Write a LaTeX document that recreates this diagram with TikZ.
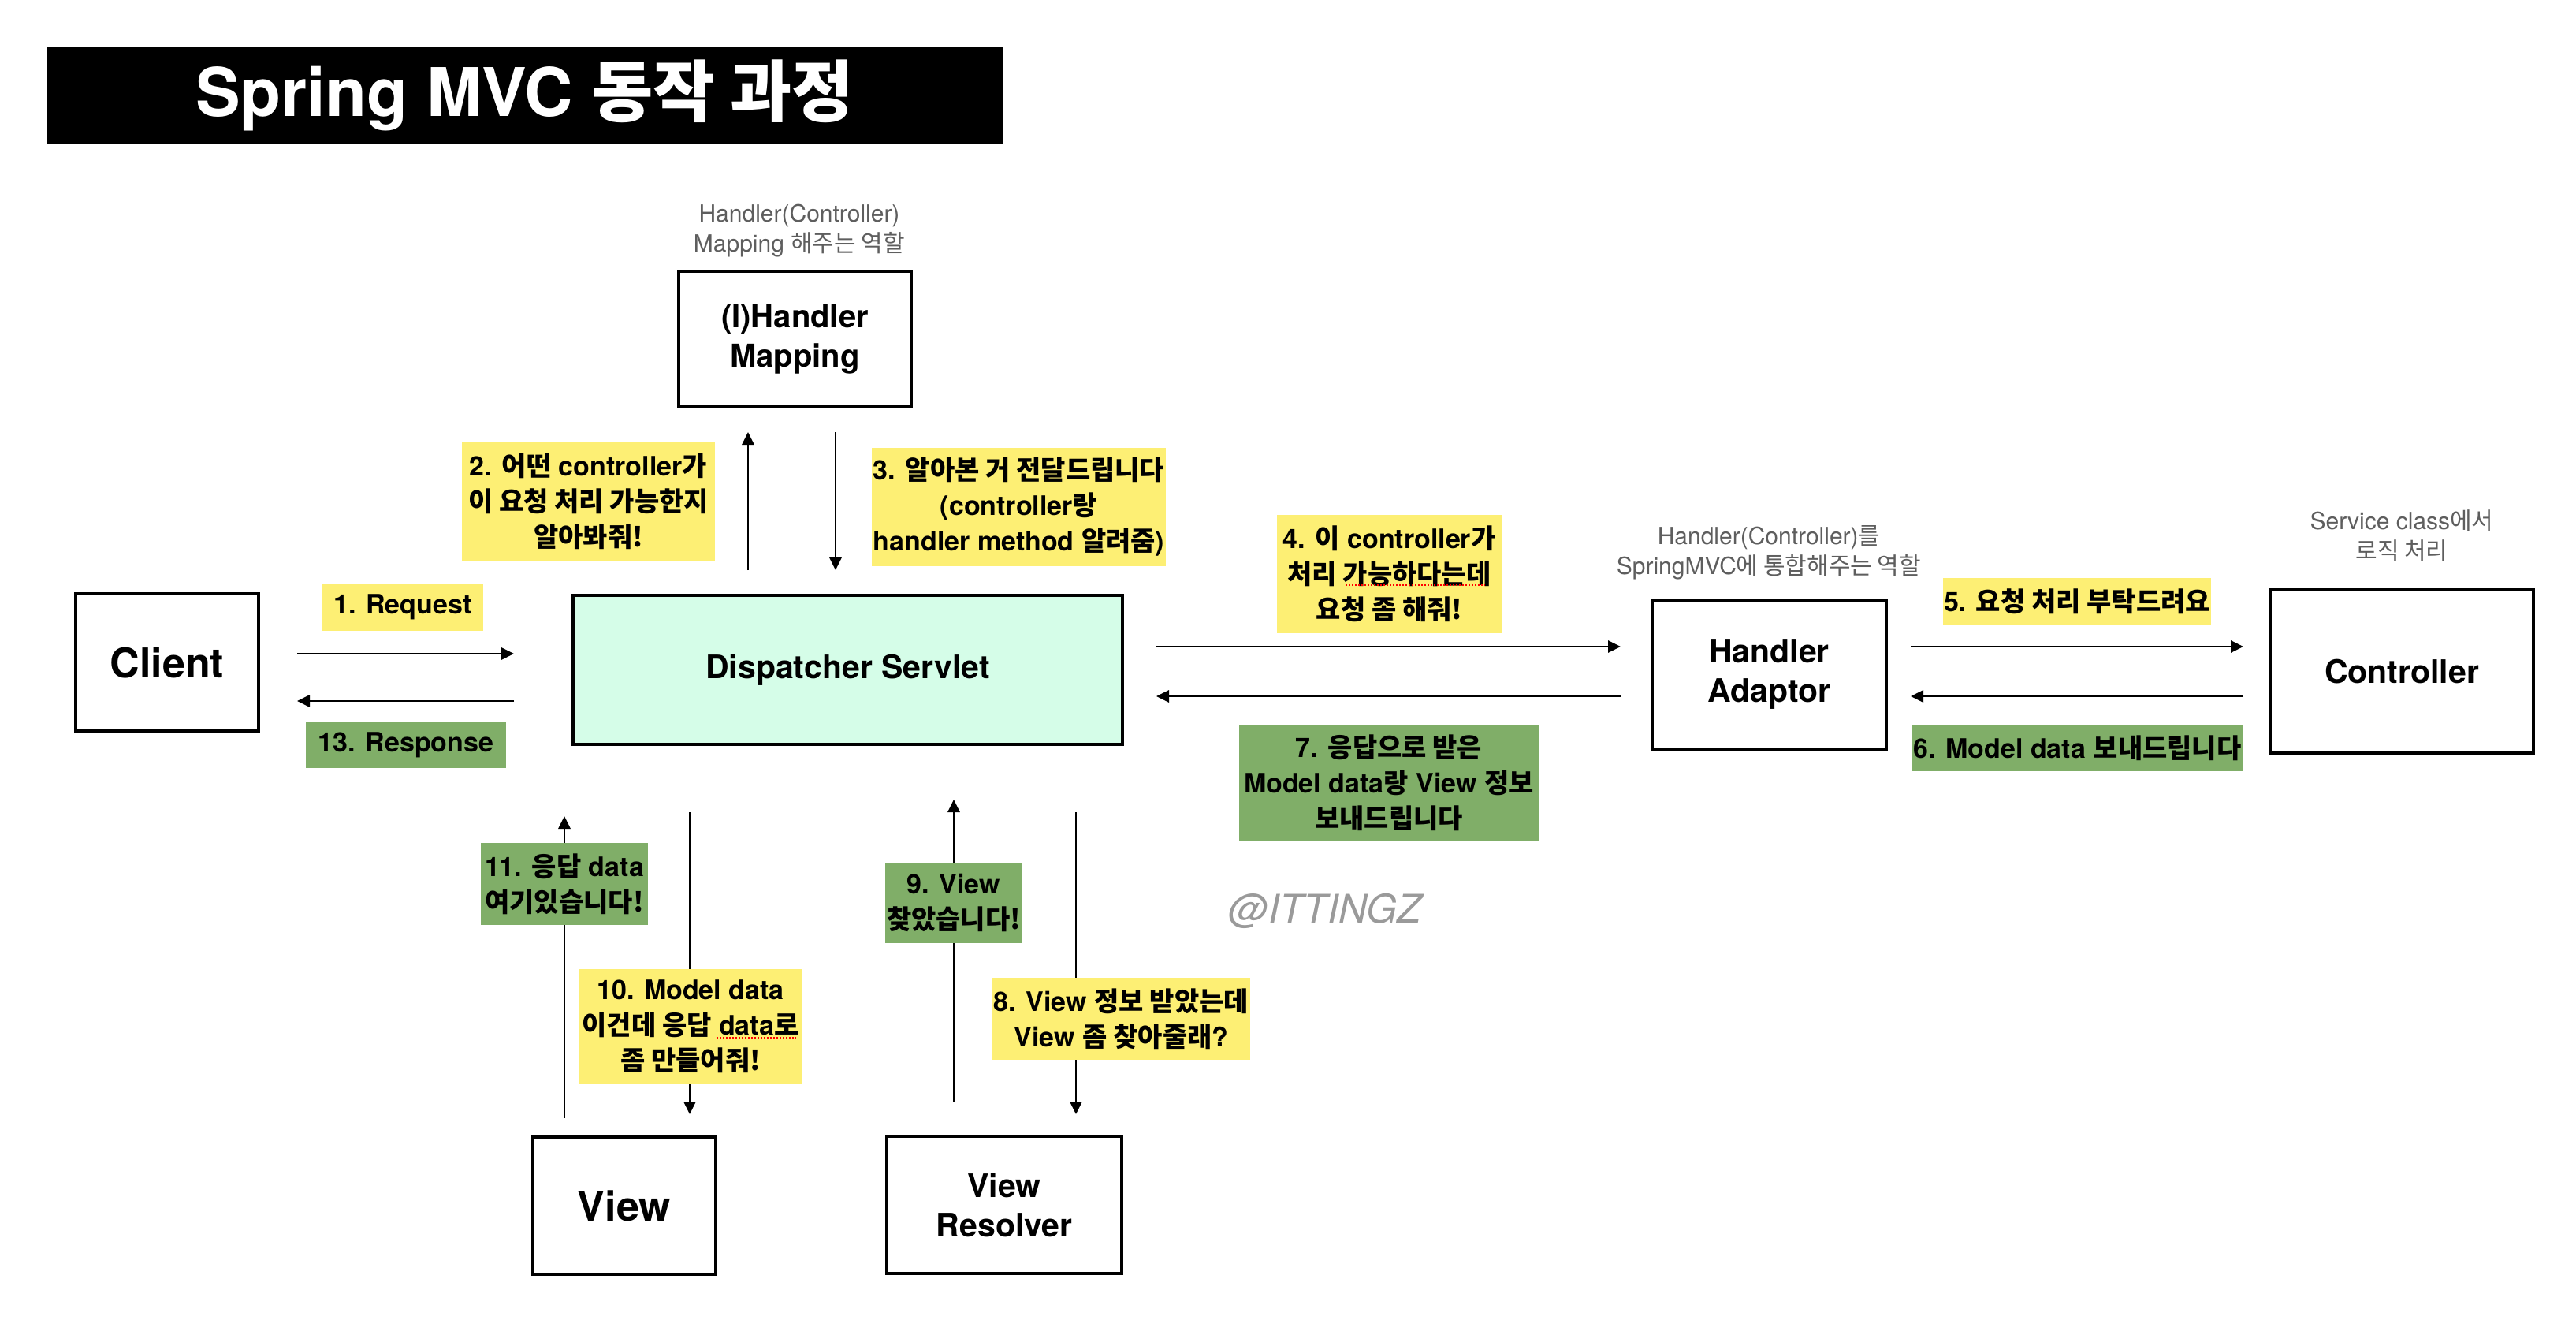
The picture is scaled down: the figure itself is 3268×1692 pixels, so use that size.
\documentclass[tikz,border=0pt]{standalone}
\usepackage{fontspec}
\setmainfont{TeX Gyre Heros}
\newfontfamily\krfont{Noto Sans CJK KR}
\newcommand\hk[1]{{\krfont #1}}
\usetikzlibrary{arrows.meta}
\definecolor{labyellow}{HTML}{FDEF74}
\definecolor{labgreen}{HTML}{80AE68}
\definecolor{dispfill}{HTML}{D5FDE8}
\definecolor{notegray}{HTML}{5E5E5E}
\definecolor{wmgray}{HTML}{9A9A9A}
\begin{document}
\begin{tikzpicture}[x=1pt,y=-1pt,
  box/.style={draw=black, line width=3.2pt, fill=white, inner sep=0pt, align=center,
    font=\bfseries\fontsize{41}{50}\selectfont},
  lab/.style={inner sep=0pt, align=center, font=\bfseries\fontsize{34}{45}\selectfont},
  ylab/.style={lab, fill=labyellow},
  glab/.style={lab, fill=labgreen},
  note/.style={inner sep=0pt, align=center, text=notegray, font=\fontsize{30}{38}\selectfont},
  arr/.style={line width=2.8pt, -{Triangle[length=16pt,width=15pt]}},
  squiggle/.style={draw=red, line width=2pt, dash pattern=on 2pt off 2pt},
]
\fill[white] (0,0) rectangle (3268,1692);
\useasboundingbox (0,0) rectangle (3268,1692);

% title
\node[fill=black, text=white, inner sep=0pt, minimum width=1213pt, minimum height=123pt,
  font=\bfseries\fontsize{85}{95}\selectfont] (title) at (665.5,120.5) {Spring MVC \hk{동작 과정}};

% boxes
\node[box, minimum width=295pt, minimum height=172pt, font=\bfseries\fontsize{40}{50}\selectfont]
  (hmap) at (1008.5,430) {(I)Handler\\Mapping};
\node[box, minimum width=232pt, minimum height=174pt, font=\bfseries\fontsize{52}{60}\selectfont]
  (client) at (212,840) {Client};
\node[box, fill=dispfill, minimum width=697pt, minimum height=189pt] (disp) at (1075.5,849.5) {Dispatcher Servlet};
\node[box, minimum width=297pt, minimum height=189pt] (hadapt) at (2244.5,855.5) {Handler\\Adaptor};
\node[box, minimum width=334pt, minimum height=207pt] (ctrl) at (3047,851.5) {Controller};
\node[box, minimum width=232pt, minimum height=174pt, font=\bfseries\fontsize{52}{60}\selectfont]
  (view) at (792,1529) {View};
\node[box, minimum width=298pt, minimum height=174pt] (vres) at (1274,1528) {View\\Resolver};

% notes
\node[note] (n1) at (1014,293) {Handler(Controller)\\Mapping \hk{해주는 역할}};
\node[note] (n2) at (2244,701) {Handler(Controller)\hk{를}\\SpringMVC\hk{에 통합해주는 역할}};
\node[note] (n3) at (3047,679) {Service class\hk{에서}\\\hk{로직 처리}};

% connector end points
\coordinate (a1s) at (377,829);  \coordinate (a1e) at (652,829);
\coordinate (a13s) at (652,889); \coordinate (a13e) at (377,889);
\coordinate (a2s) at (949,723);  \coordinate (a2e) at (949,548);
\coordinate (a3s) at (1060,548); \coordinate (a3e) at (1060,723);
\coordinate (a4s) at (1467,820); \coordinate (a4e) at (2056,820);
\coordinate (a7s) at (2056,883); \coordinate (a7e) at (1467,883);
\coordinate (a5s) at (2424,820); \coordinate (a5e) at (2846,820);
\coordinate (a6s) at (2846,883); \coordinate (a6e) at (2424,883);
\coordinate (a11s) at (716,1418); \coordinate (a11e) at (716,1035);
\coordinate (a10s) at (875,1030); \coordinate (a10e) at (875,1413);
\coordinate (a9s) at (1210,1397); \coordinate (a9e) at (1210,1014);
\coordinate (a8s) at (1365,1030); \coordinate (a8e) at (1365,1413);

\foreach \a in {1,13,2,3,4,7,5,6,11,10,9,8}
  \draw[arr] (a\a s) -- (a\a e);

% labels
\node[ylab, minimum width=204pt, minimum height=60pt] (l1) at (511,770) {1. Request};
\node[glab, minimum width=254pt, minimum height=59pt] (l13) at (515,944.5) {13. Response};
\node[ylab, minimum width=321pt, minimum height=150pt] (l2) at (746.5,636)
  {2. \hk{어떤} controller\hk{가}\\\hk{이 요청 처리 가능한지}\\\hk{알아봐줘!}};
\node[ylab, minimum width=373pt, minimum height=150pt] (l3) at (1292.5,643)
  {3. \hk{알아본 거 전달드립니다}\\(controller\hk{랑}\\handler method \hk{알려줌})};
\node[ylab, minimum width=285pt, minimum height=150pt] (l4) at (1762.5,728)
  {4. \hk{이} controller\hk{가}\\\hk{처리 가능하다는데}\\\hk{요청 좀 해줘!}};
\node[glab, minimum width=380pt, minimum height=147pt] (l7) at (1762,992.5)
  {7. \hk{응답으로 받은}\\Model data\hk{랑} View \hk{정보}\\\hk{보내드립니다}};
\node[ylab, minimum width=340pt, minimum height=59pt] (l5) at (2635,762.5)
  {5. \hk{요청 처리 부탁드려요}};
\node[glab, minimum width=421pt, minimum height=58pt] (l6) at (2635.5,949)
  {6. Model data \hk{보내드립니다}};
\node[glab, minimum width=212pt, minimum height=104pt] (l11) at (716,1121)
  {11. \hk{응답} data\\\hk{여기있습니다!}};
\node[ylab, minimum width=284pt, minimum height=146pt] (l10) at (876,1302)
  {10. Model data\\\hk{이건데 응답} data\hk{로}\\\hk{좀 만들어줘!}};
\node[glab, minimum width=174pt, minimum height=102pt] (l9) at (1210,1145)
  {9. View\\\hk{찾았습니다!}};
\node[ylab, minimum width=327pt, minimum height=104pt] (l8) at (1422.5,1292)
  {8. View \hk{정보 받았는데}\\View \hk{좀 찾아줄래}?};

% spell-check underlines
\draw[squiggle] (1707,742) -- (1884,742);
\draw[squiggle] (909,1316) -- (1010,1316);

% watermark
\node[text=wmgray, inner sep=0pt, font=\itshape\fontsize{50}{60}\selectfont] (wm) at (1681,1155) {@ITTINGZ};
\end{tikzpicture}
\end{document}
